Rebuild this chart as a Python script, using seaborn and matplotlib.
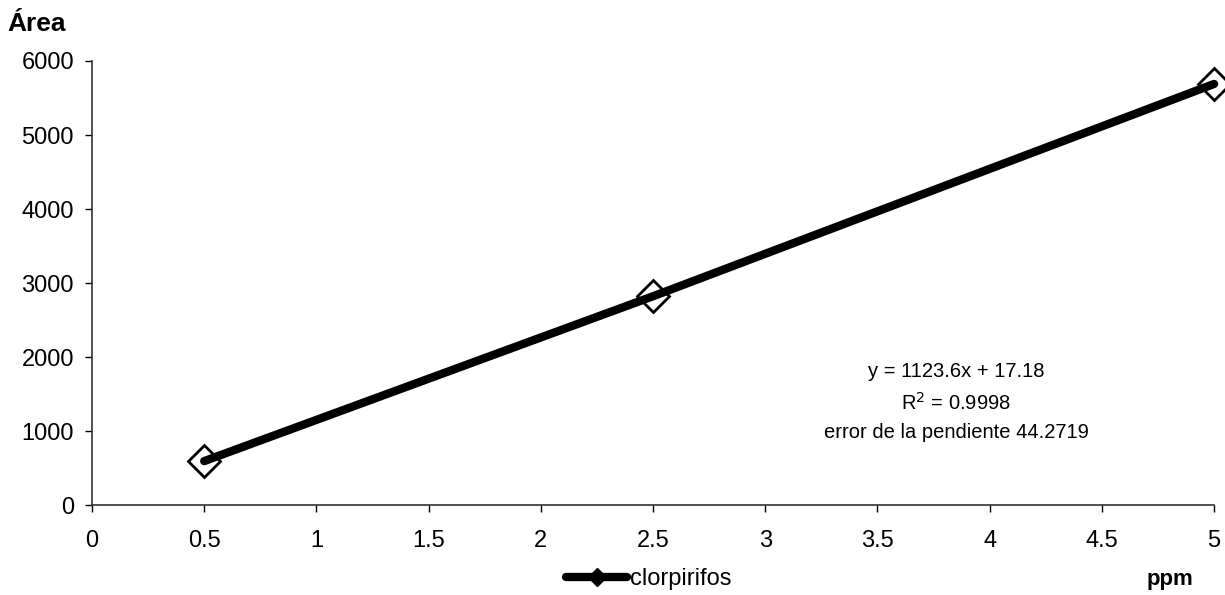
import matplotlib
matplotlib.use("Agg")
import matplotlib.pyplot as plt
from matplotlib.lines import Line2D
import seaborn as sns
import pandas as pd

# Calibration data: concentration (ppm) vs. peak area
ppm = [0.5, 2.5, 5.0]
area = [595, 2822, 5690]
series_name = "clorpirifos"

x_ticks = [0, 0.5, 1, 1.5, 2, 2.5, 3, 3.5, 4, 4.5, 5]
x_tick_labels = ["0", "0.5", "1", "1.5", "2", "2.5", "3", "3.5", "4", "4.5", "5"]
y_ticks = [0, 1000, 2000, 3000, 4000, 5000, 6000]

fit_text = "y = 1123.6x + 17.18\nR$^2$ = 0.9998\nerror de la pendiente 44.2719"

sns.set_theme(style="white")
plt.rcParams["font.family"] = ["Liberation Sans", "DejaVu Sans"]
plt.rcParams["text.color"] = "black"

df = pd.DataFrame({"ppm": ppm, "area": area})

fig = plt.figure(figsize=(12.25, 5.95), dpi=100)
ax = fig.add_axes([0.0751, 0.151, 0.916, 0.7465])

sns.lineplot(data=df, x="ppm", y="area", ax=ax, color="black", linewidth=6,
             solid_capstyle="round", marker="D", markersize=16,
             markerfacecolor="none", markeredgecolor="black",
             markeredgewidth=2, legend=False, clip_on=False)

ax.set_xlim(0, 5)
ax.set_ylim(0, 6000)
ax.set_xticks(x_ticks)
ax.set_xticklabels(x_tick_labels)
ax.set_yticks(y_ticks)
ax.tick_params(axis="both", labelsize=17, colors="black", direction="out",
               length=5, width=1, pad=8, left=True, bottom=True)
ax.tick_params(axis="x", pad=13)
ax.set_xlabel("")
ax.set_ylabel("")

for side in ["top", "right"]:
    ax.spines[side].set_visible(False)
for side in ["left", "bottom"]:
    ax.spines[side].set_color("#333333")
    ax.spines[side].set_linewidth(1.2)

fig.text(0.006, 0.96, "Área", fontsize=19, fontweight="bold", ha="left", va="center")
fig.text(0.955, 0.026, "ppm", fontsize=16, fontweight="bold", ha="center", va="center")

ax.text(3.85, 1935, fit_text, fontsize=14.5, ha="center", va="top", linespacing=1.6)

handle = Line2D([0], [0], color="black", linewidth=6, marker="D", markersize=9,
                markerfacecolor="black")
fig.legend([handle], [series_name], loc="center left", bbox_to_anchor=(0.462, 0.027),
           frameon=False, fontsize=17, handlelength=2.6, handletextpad=0.1,
           borderpad=0, borderaxespad=0)

fig.savefig("out.png", dpi=100, facecolor="white")
